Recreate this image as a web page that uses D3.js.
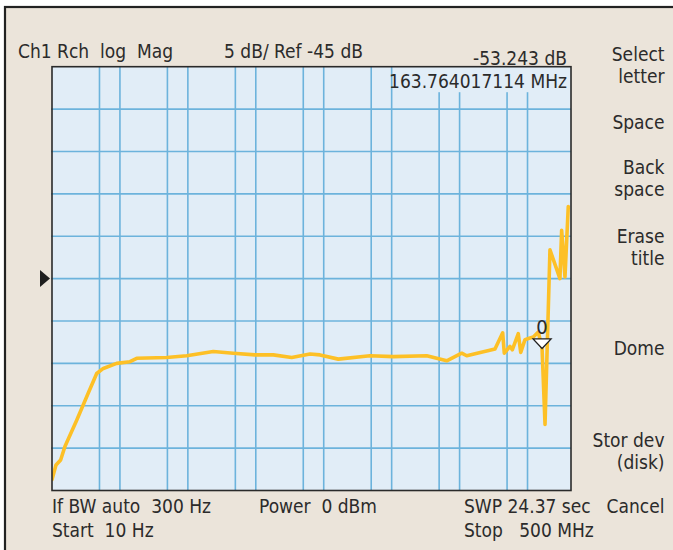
<!DOCTYPE html>
<html lang="en">
<head>
    <meta charset="UTF-8">
    <title>Ch1 Rch log Mag</title>
    <style>
        body {
            margin: 0;
            padding: 0;
            background: #fff;
        }
        text {
            font-family: "Liberation Sans Narrow", "DejaVu Sans Condensed", "Arial Narrow", sans-serif;
            font-size: 19px;
            fill: #2b2b2b;
            white-space: pre;
        }
        .grid line {
            stroke: #6cb3dc;
            stroke-width: 1.6px;
        }
    </style>
</head>
<body>
    <script src="https://cdn.jsdelivr.net/npm/d3@7"></script>
    <script>
        // trace: frequency (Hz) and log magnitude (dB)
        const freqHz = [10, 11.45, 13.4, 15.5, 23.1, 34.2, 45.5, 56.9, 89.5, 140.6, 176.6, 488, 962,
            2366, 4667, 9730, 18110, 33800, 62830, 88100, 164000, 479800, 1.057e6, 3.28e6, 6.46e6,
            1.074e7, 1.273e7, 3.32e7, 4.31e7, 4.55e7, 5.52e7, 5.97e7, 7.31e7, 7.94e7, 9.18e7,
            1.088e8, 1.217e8, 1.442e8, 1.6376e8, 1.81e8, 2.14e8, 3.0e8, 3.18e8, 3.56e8, 3.98e8];
        const magDb = [-68.7, -67.0, -66.4, -64.8, -61.7, -58.5, -56.2, -55.6, -55.0, -54.8, -54.4, -54.3, -54.1,
            -53.6, -53.8, -54.0, -54.0, -54.3, -53.9, -54.0, -54.5, -54.1, -54.2, -54.1, -54.7,
            -53.8, -54.1, -53.3, -51.4, -53.8, -53.0, -53.4, -51.5, -53.7, -52.2,
            -52.0, -51.9, -51.3, -53.243, -62.2, -41.6, -45.0, -39.3, -44.8, -36.5];

        // grid: log sweep 10 Hz .. 500 MHz, 5 dB/div around ref -45 dB
        const gridFreqs = [50, 100, 500, 1e3, 5e3, 1e4, 5e4, 1e5, 5e5, 1e6, 5e6, 1e7, 5e7, 1e8];
        const dbTicks = [-65, -60, -55, -50, -45, -40, -35, -30, -25];
        const startHz = 10, stopHz = 5e8;
        const refDb = -45, dbPerDiv = 5;

        const marker = { label: '0', freq: 163764017.114, db: -53.243 };

        const headerLeft = 'Ch1 Rch  log  Mag';
        const headerScale = '5 dB/ Ref -45 dB';
        const footerLines = [
            ['If BW auto  300 Hz', 'Power  0 dBm', 'SWP 24.37 sec'],
            ['Start  10 Hz', '', 'Stop   500 MHz']
        ];
        const menuLabels = [['Select', 'letter'], ['Space'], ['Back', 'space'], ['Erase', 'title'],
            ['Dome'], ['Stor dev', '(disk)'], ['Cancel']];

        const width = 673, height = 550;
        const plot = { left: 52, top: 66.7, right: 571, bottom: 490.5 };

        const svg = d3.select('body').append('svg')
            .attr('width', width)
            .attr('height', height);

        // instrument bezel
        svg.append('rect')
            .attr('x', 5).attr('y', 7)
            .attr('width', width + 10).attr('height', height + 10)
            .attr('fill', '#ebe4da')
            .attr('stroke', '#222')
            .attr('stroke-width', 2.2);

        const x = d3.scaleLog()
            .domain([startHz, stopHz])
            .range([plot.left, plot.right + 4]);

        const y = d3.scaleLinear()
            .domain([refDb - 5 * dbPerDiv, refDb + 5 * dbPerDiv])
            .range([plot.bottom, plot.top]);

        svg.append('rect')
            .attr('x', plot.left).attr('y', plot.top)
            .attr('width', plot.right - plot.left)
            .attr('height', plot.bottom - plot.top)
            .attr('fill', '#e1edf7');

        const grid = svg.append('g').attr('class', 'grid');

        grid.selectAll('.vline')
            .data(gridFreqs)
            .enter().append('line')
            .attr('class', 'vline')
            .attr('x1', d => x(d)).attr('x2', d => x(d))
            .attr('y1', plot.top).attr('y2', plot.bottom);

        grid.selectAll('.hline')
            .data(dbTicks)
            .enter().append('line')
            .attr('class', 'hline')
            .attr('x1', plot.left - 1).attr('x2', plot.right)
            .attr('y1', d => y(d)).attr('y2', d => y(d));

        // marker readout box covers the grid top right
        svg.append('rect')
            .attr('x', 393).attr('y', plot.top)
            .attr('width', plot.right - 393).attr('height', 25.5)
            .attr('fill', '#e1edf7');

        svg.append('text')
            .attr('x', 567).attr('y', 87.5)
            .attr('text-anchor', 'end')
            .text((marker.freq / 1e6).toFixed(9) + ' MHz');

        svg.append('clipPath')
            .attr('id', 'plot-clip')
            .append('rect')
            .attr('x', plot.left).attr('y', plot.top)
            .attr('width', plot.right - plot.left)
            .attr('height', plot.bottom - plot.top);

        const trace = freqHz.map((f, i) => ({ f: f, db: magDb[i] }));

        svg.append('path')
            .datum(trace)
            .attr('clip-path', 'url(#plot-clip)')
            .attr('fill', 'none')
            .attr('stroke', '#fdc026')
            .attr('stroke-width', 3.6)
            .attr('stroke-linejoin', 'round')
            .attr('stroke-linecap', 'round')
            .attr('d', d3.line().x(d => x(d.f)).y(d => y(d.db)));

        svg.append('rect')
            .attr('x', plot.left).attr('y', plot.top)
            .attr('width', plot.right - plot.left)
            .attr('height', plot.bottom - plot.top)
            .attr('fill', 'none')
            .attr('stroke', '#2a2a2a')
            .attr('stroke-width', 1.6);

        // reference level pointer
        const ry = y(refDb);
        svg.append('path')
            .attr('d', `M40,${ry - 8.5}L50,${ry}L40,${ry + 8.5}Z`)
            .attr('fill', '#1e1e1e');

        // marker 0
        const mx = x(marker.freq), my = y(marker.db);
        svg.append('path')
            .attr('d', `M${mx},${my}L${mx - 9},${my - 9.5}L${mx + 9},${my - 9.5}Z`)
            .attr('fill', '#fff')
            .attr('stroke', '#222')
            .attr('stroke-width', 1.3);
        svg.append('text')
            .attr('x', mx).attr('y', my - 14)
            .attr('text-anchor', 'middle')
            .style('font-size', '20px')
            .text(marker.label);

        // header
        svg.append('text').attr('x', 18).attr('y', 57.5).text(headerLeft);
        svg.append('text').attr('x', 224).attr('y', 57.5).text(headerScale);
        svg.append('text')
            .attr('x', 567).attr('y', 65)
            .attr('text-anchor', 'end')
            .text(marker.db.toFixed(3) + ' dB');

        // footer
        const footX = [52, 259, 464];
        footerLines.forEach((row, r) => {
            row.forEach((t, c) => {
                if (!t) return;
                svg.append('text')
                    .attr('x', footX[c])
                    .attr('y', 513 + r * 23.5)
                    .text(t);
            });
        });

        // softkey menu
        const menuY = [61, 128.5, 174, 242.5, 355, 446.5, 513.3];
        menuLabels.forEach((lines, i) => {
            svg.append('g').selectAll('text')
                .data(lines)
                .enter().append('text')
                .attr('x', 664.5)
                .attr('y', (d, j) => menuY[i] + j * 22.3)
                .attr('text-anchor', 'end')
                .text(d => d);
        });
    </script>
</body>
</html>
